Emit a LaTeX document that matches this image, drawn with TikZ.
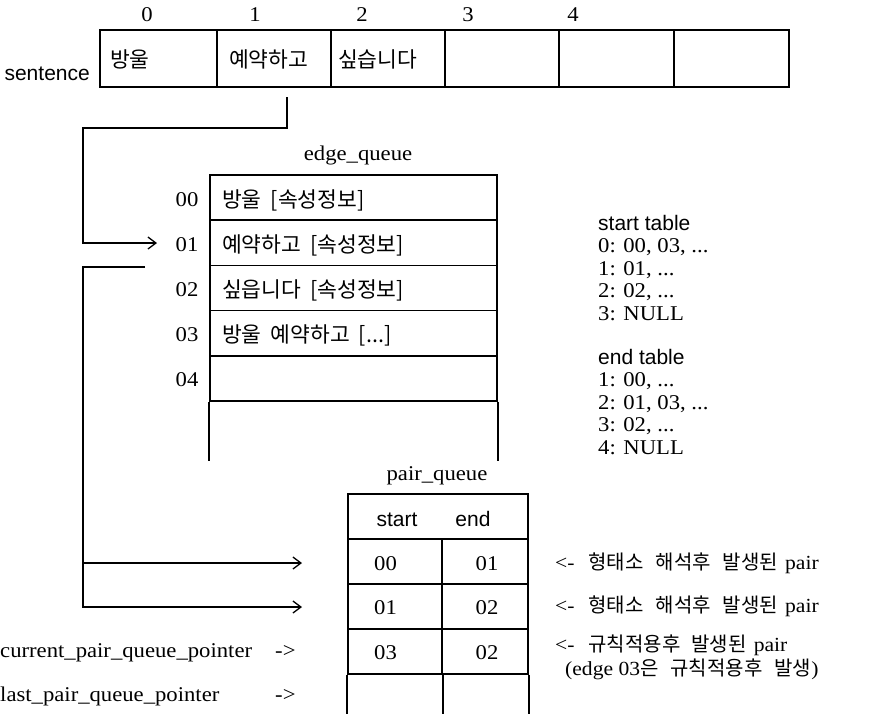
\documentclass[tikz,border=0pt]{standalone}
\usepackage{fontspec}
\setmainfont[FakeStretch=1.08]{Liberation Serif}
\setsansfont{Liberation Sans}
\newfontfamily\kr{Noto Sans CJK KR}
\usetikzlibrary{arrows.meta}
\begin{document}
\begin{tikzpicture}[x=1pt,y=-1pt,
  cell/.style={draw, line width=1.7pt, inner sep=0pt},
  lbl/.style={inner sep=0pt, font=\fontsize{21}{23}\selectfont, text height=14.3pt, text depth=0pt},
  slbl/.style={lbl, font=\fontsize{21}{23}\sffamily},
  klbl/.style={inner sep=0pt, font=\fontsize{21.5}{23}\kr, text height=16.8pt, text depth=0pt},
  alb/.style={inner sep=0pt, font=\fontsize{20}{23}\kr, text height=15.6pt, text depth=0pt, anchor=west},
  conn/.style={line width=1.7pt},
  arr/.style={conn, -{Straight Barb[length=8pt,width=12pt,line width=1.3pt]}}
]
\useasboundingbox (0,0) rectangle (872,713);

% sentence array
\node[cell, minimum width=117pt, minimum height=57pt] (s0) at (158.5,58.5) {};
\node[cell, minimum width=114pt, minimum height=57pt] (s1) at (274,58.5) {};
\node[cell, minimum width=114pt, minimum height=57pt] (s2) at (388,58.5) {};
\node[cell, minimum width=114pt, minimum height=57pt] (s3) at (502,58.5) {};
\node[cell, minimum width=115pt, minimum height=57pt] (s4) at (616.5,58.5) {};
\node[cell, minimum width=115pt, minimum height=57pt] (s5) at (731.5,58.5) {};
\node[klbl, anchor=west] (w0) at (110,59) {방울};
\node[klbl, anchor=west] (w1) at (229,59) {예약하고};
\node[klbl, anchor=west] (w2) at (338,59) {싶습니다};
\node[lbl] (i0) at (147,14) {0};
\node[lbl] (i1) at (255,14) {1};
\node[lbl] (i2) at (362,14) {2};
\node[lbl] (i3) at (468,14) {3};
\node[lbl] (i4) at (573,14) {4};
\node[slbl, anchor=base east] (sent) at (90,80) {sentence};

% edge queue
\node[lbl] (eql) at (358,153) {edge\_queue};
\node[cell, minimum width=287pt, minimum height=45.2pt] (e0) at (353.5,197.6) {};
\node[cell, minimum width=287pt, minimum height=45.2pt] (e1) at (353.5,242.8) {};
\node[cell, minimum width=287pt, minimum height=45.2pt] (e2) at (353.5,288) {};
\node[cell, minimum width=287pt, minimum height=45.2pt] (e3) at (353.5,333.2) {};
\node[cell, minimum width=287pt, minimum height=45.2pt] (e4) at (353.5,378.4) {};
\draw[conn] (e4.south west) -- ++(0,59) (e4.south east) -- ++(0,59);
\node[lbl] (l0) at (187,199) {00};
\node[lbl] (l1) at (187,244) {01};
\node[lbl] (l2) at (187,289) {02};
\node[lbl] (l3) at (187,334) {03};
\node[lbl] (l4) at (187,379) {04};
\node[klbl, anchor=west] (t0) at (222,199) {방울\hspace{9pt}[속성정보]};
\node[klbl, anchor=west] (t1) at (222,244) {예약하고\hspace{9pt}[속성정보]};
\node[klbl, anchor=west] (t2) at (222,289) {싶읍니다\hspace{9pt}[속성정보]};
\node[klbl, anchor=west] (t3) at (222,334) {방울\hspace{9pt}예약하고\hspace{9pt}[...]};

% start / end tables
\node[slbl, anchor=west] (st0) at (598,223) {start table};
\node[lbl, anchor=west] (st1) at (598,245.5) {0: 00, 03, ...};
\node[lbl, anchor=west] (st2) at (598,268) {1: 01, ...};
\node[lbl, anchor=west] (st3) at (598,290.5) {2: 02, ...};
\node[lbl, anchor=west] (st4) at (598,313) {3: NULL};
\node[slbl, anchor=west] (et0) at (598,357) {end table};
\node[lbl, anchor=west] (et1) at (598,379.5) {1: 00, ...};
\node[lbl, anchor=west] (et2) at (598,402) {2: 01, 03, ...};
\node[lbl, anchor=west] (et3) at (598,424.5) {3: 02, ...};
\node[lbl, anchor=west] (et4) at (598,447) {4: NULL};

% pair queue
\node[lbl] (pql) at (437,473) {pair\_queue};
\node[cell, minimum width=180pt, minimum height=45pt] (ph) at (438,516.5) {};
\node[slbl] (hs) at (397,519) {start};
\node[slbl] (he) at (473,519) {end};
\node[cell, minimum width=94pt, minimum height=45pt] (pa0) at (395,561.5) {};
\node[cell, minimum width=86pt, minimum height=45pt] (pb0) at (485,561.5) {};
\node[cell, minimum width=94pt, minimum height=45pt] (pa1) at (395,606.5) {};
\node[cell, minimum width=86pt, minimum height=45pt] (pb1) at (485,606.5) {};
\node[cell, minimum width=94pt, minimum height=45pt] (pa2) at (395,651.5) {};
\node[cell, minimum width=86pt, minimum height=45pt] (pb2) at (485,651.5) {};
\draw[conn] (pa2.south west) -- ++(0,40) (pa2.south east) -- ++(0,40) (pb2.south east) -- ++(0,40);
\node[lbl, anchor=west] (v00) at (374,563) {00};
\node[lbl] (v01) at (487,563) {01};
\node[lbl, anchor=west] (v10) at (374,607) {01};
\node[lbl] (v11) at (487,607) {02};
\node[lbl, anchor=west] (v20) at (374,652) {03};
\node[lbl] (v21) at (487,652) {02};

% pointers
\node[lbl, anchor=west] (cur) at (0,650) {current\_pair\_queue\_pointer};
\node[lbl, anchor=west] (curA) at (275,650) {->};
\node[lbl, anchor=west] (last) at (0,694) {last\_pair\_queue\_pointer};
\node[lbl, anchor=west] (lastA) at (275,694) {->};

% annotations
\node[alb] (n0) at (555,562) {{\rmfamily <-}\hspace{14pt}형태소\hspace{12pt}해석후\hspace{12pt}발생된\hspace{7pt}{\rmfamily pair}};
\node[alb] (n1) at (555,605) {{\rmfamily <-}\hspace{14pt}형태소\hspace{12pt}해석후\hspace{12pt}발생된\hspace{7pt}{\rmfamily pair}};
\node[alb] (n2) at (555,644) {{\rmfamily <-}\hspace{14pt}규칙적용후\hspace{11pt}발생된\hspace{7pt}{\rmfamily pair}};
\node[alb] (n3) at (565,668) {{\rmfamily (edge 03}은\hspace{12pt}규칙적용후\hspace{12pt}발생{\rmfamily )}};

% connectors
\coordinate (c1s) at (287,97);
\coordinate (c1k) at (287,128);
\coordinate (c2s) at (145,267);
\coordinate (c2k) at (83,267);
\coordinate (e1in) at (157,243);
\coordinate (p0in) at (302,563);
\coordinate (p1in) at (302,607);
\draw[arr] (c1s) -- (c1k) -- (c1k -| c2k) |- (e1in);
\draw[arr] (c2s) -- (c2k) |- (p1in);
\draw[arr] (c2k |- p0in) -- (p0in);
\end{tikzpicture}
\end{document}
